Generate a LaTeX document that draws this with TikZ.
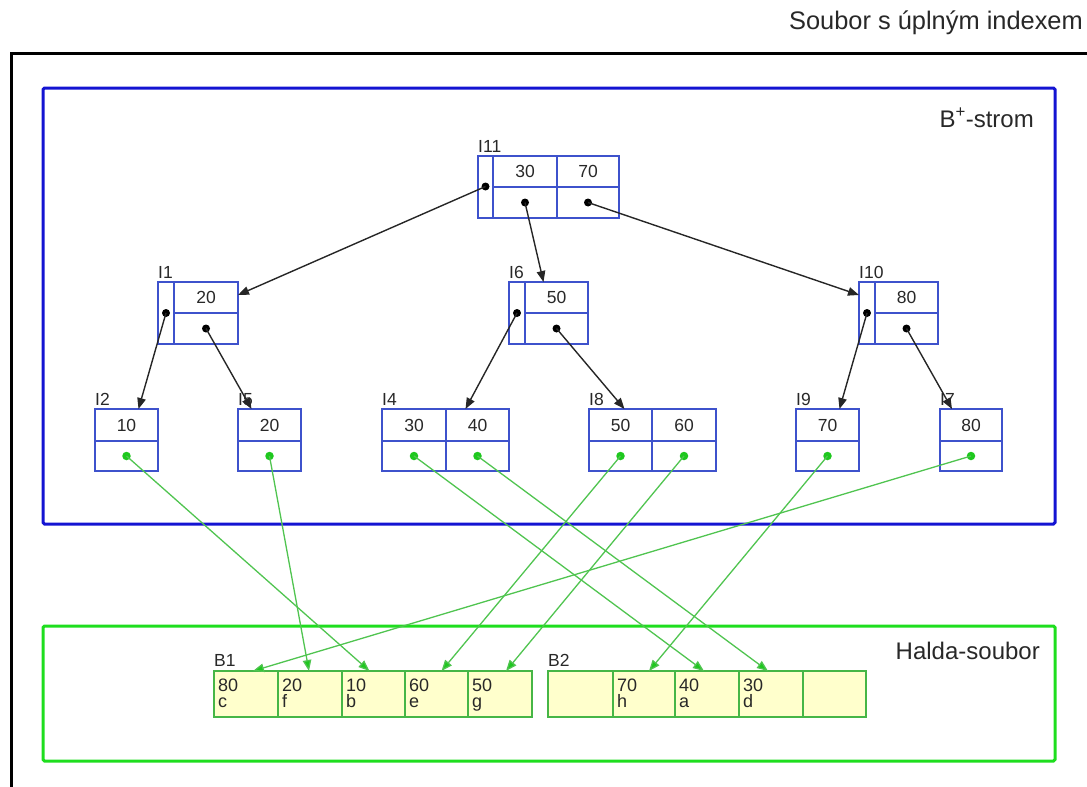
\documentclass[tikz,border=0pt]{standalone}
\usepackage{fontspec}
\setmainfont{Liberation Sans}
\usetikzlibrary{arrows.meta}

\definecolor{nodeblue}{RGB}{62,82,204}
\definecolor{areablue}{RGB}{20,20,210}
\definecolor{areagreen}{RGB}{30,222,30}
\definecolor{blockgreen}{RGB}{70,182,70}
\definecolor{blockfill}{RGB}{255,255,204}
\definecolor{linkgreen}{RGB}{80,196,80}
\definecolor{dotgreen}{RGB}{30,200,30}
\definecolor{inktext}{RGB}{40,40,40}

\tikzset{
  cellbox/.style={draw=nodeblue, line width=1.3pt, inner sep=0pt, outer sep=0pt,
    anchor=north west, font=\fontsize{17.5}{18}\selectfont, text=inktext},
  blockcell/.style={draw=blockgreen, fill=blockfill, line width=1.5pt, inner sep=0pt,
    outer sep=0pt, anchor=north west, minimum height=46pt},
  celltxt/.style={anchor=base west, inner sep=0pt, font=\fontsize{18}{18}\selectfont, text=inktext},
  nodelabel/.style={anchor=base west, inner sep=0pt, font=\fontsize{17.5}{18}\selectfont, text=inktext},
  arealabel/.style={anchor=base east, inner sep=0pt, font=\fontsize{24}{24}\selectfont, text=inktext},
  blackdot/.style={circle, fill=black, inner sep=0pt, minimum size=8pt},
  greendot/.style={circle, fill=dotgreen, inner sep=0pt, minimum size=8.5pt},
  treelink/.style={draw=black!85, line width=1.4pt, -{Triangle[length=11pt,width=8.5pt]}},
  heaplink/.style={draw=linkgreen, line width=1.3pt, -{Triangle[length=11pt,width=8.5pt,fill=dotgreen]}},
}

\begin{document}
\begin{tikzpicture}[x=1pt,y=-1pt]
\useasboundingbox (0,0) rectangle (1087,787);

% outer frame
\draw[line width=3pt, black] (1087,53) -- (11,53) -- (11,787);
\node[arealabel, font=\fontsize{25.4}{26}\selectfont] (title) at (1083,29) {Soubor s úplným indexem};

% areas
\draw[areablue, line width=3pt, rounded corners=1.5pt] (43,88) rectangle (1055,524);
\draw[areagreen, line width=3pt, rounded corners=1.5pt] (43,626) rectangle (1055,761);
\node[arealabel] (treetitle) at (1034,127) {B\textsuperscript{+}-strom};
\node[arealabel] (heaptitle) at (1040,659) {Halda-soubor};

% ---- root I11
\node[cellbox, minimum width=15pt, minimum height=62pt] (I11c) at (478,156) {};
\node[cellbox, minimum width=64pt, minimum height=31pt] (I11k1) at (493,156) {30};
\node[cellbox, minimum width=64pt, minimum height=31pt] (I11p1) at (493,187) {};
\node[cellbox, minimum width=62pt, minimum height=31pt] (I11k2) at (557,156) {70};
\node[cellbox, minimum width=62pt, minimum height=31pt] (I11p2) at (557,187) {};
\node[nodelabel] (L11) at (478,152) {I11};

% ---- inner nodes
\node[cellbox, minimum width=16pt, minimum height=62pt] (I1c) at (158,282) {};
\node[cellbox, minimum width=64pt, minimum height=31pt] (I1k) at (174,282) {20};
\node[cellbox, minimum width=64pt, minimum height=31pt] (I1p) at (174,313) {};
\node[nodelabel] (L1) at (158,278) {I1};

\node[cellbox, minimum width=16pt, minimum height=62pt] (I6c) at (509,282) {};
\node[cellbox, minimum width=63pt, minimum height=31pt] (I6k) at (525,282) {50};
\node[cellbox, minimum width=63pt, minimum height=31pt] (I6p) at (525,313) {};
\node[nodelabel] (L6) at (509,278) {I6};

\node[cellbox, minimum width=16pt, minimum height=62pt] (I10c) at (859,282) {};
\node[cellbox, minimum width=63pt, minimum height=31pt] (I10k) at (875,282) {80};
\node[cellbox, minimum width=63pt, minimum height=31pt] (I10p) at (875,313) {};
\node[nodelabel] (L10) at (859,278) {I10};

% ---- leaves
\node[cellbox, minimum width=63pt, minimum height=32pt] (I2k) at (95,409) {10};
\node[cellbox, minimum width=63pt, minimum height=30pt] (I2p) at (95,441) {};
\node[nodelabel] (L2) at (95,405) {I2};

\node[cellbox, minimum width=63pt, minimum height=32pt] (I5k) at (238,409) {20};
\node[cellbox, minimum width=63pt, minimum height=30pt] (I5p) at (238,441) {};
\node[nodelabel] (L5) at (238,405) {I5};

\node[cellbox, minimum width=64pt, minimum height=32pt] (I4k1) at (382,409) {30};
\node[cellbox, minimum width=64pt, minimum height=30pt] (I4p1) at (382,441) {};
\node[cellbox, minimum width=63pt, minimum height=32pt] (I4k2) at (446,409) {40};
\node[cellbox, minimum width=63pt, minimum height=30pt] (I4p2) at (446,441) {};
\node[nodelabel] (L4) at (382,405) {I4};

\node[cellbox, minimum width=63pt, minimum height=32pt] (I8k1) at (589,409) {50};
\node[cellbox, minimum width=63pt, minimum height=30pt] (I8p1) at (589,441) {};
\node[cellbox, minimum width=64pt, minimum height=32pt] (I8k2) at (652,409) {60};
\node[cellbox, minimum width=64pt, minimum height=30pt] (I8p2) at (652,441) {};
\node[nodelabel] (L8) at (589,405) {I8};

\node[cellbox, minimum width=63pt, minimum height=32pt] (I9k) at (796,409) {70};
\node[cellbox, minimum width=63pt, minimum height=30pt] (I9p) at (796,441) {};
\node[nodelabel] (L9) at (796,405) {I9};

\node[cellbox, minimum width=62pt, minimum height=32pt] (I7k) at (940,409) {80};
\node[cellbox, minimum width=62pt, minimum height=30pt] (I7p) at (940,441) {};
\node[nodelabel] (L7) at (940,405) {I7};

% ---- heap blocks
\node[blockcell, minimum width=64pt] (B1c1) at (214,671) {};
\node[blockcell, minimum width=64pt] (B1c2) at (278,671) {};
\node[blockcell, minimum width=63pt] (B1c3) at (342,671) {};
\node[blockcell, minimum width=63pt] (B1c4) at (405,671) {};
\node[blockcell, minimum width=64pt] (B1c5) at (468,671) {};
\node[nodelabel] (LB1) at (214,666) {B1};

\node[blockcell, minimum width=65pt] (B2c1) at (548,671) {};
\node[blockcell, minimum width=62pt] (B2c2) at (613,671) {};
\node[blockcell, minimum width=64pt] (B2c3) at (675,671) {};
\node[blockcell, minimum width=64pt] (B2c4) at (739,671) {};
\node[blockcell, minimum width=63pt] (B2c5) at (803,671) {};
\node[nodelabel] (LB2) at (548,666) {B2};

\foreach \c/\k/\v in {B1c1/80/c, B1c2/20/f, B1c3/10/b, B1c4/60/e, B1c5/50/g,
                      B2c2/70/h, B2c3/40/a, B2c4/30/d} {
  \node[celltxt] (\c key) at ([shift={(4pt,-20pt)}]\c.north west) {\k};
  \node[celltxt] (\c val) at ([shift={(4pt,-36pt)}]\c.north west) {\v};
}

% ---- pointer dots
\node[blackdot] (d11c) at ([yshift=0.5pt]I11c.center) {};
\node[blackdot] (d11a) at (I11p1.center) {};
\node[blackdot] (d11b) at (I11p2.center) {};
\node[blackdot] (d1c) at (I1c.center) {};
\node[blackdot] (d1k) at (I1p.center) {};
\node[blackdot] (d6c) at (I6c.center) {};
\node[blackdot] (d6k) at (I6p.center) {};
\node[blackdot] (d10c) at (I10c.center) {};
\node[blackdot] (d10k) at (I10p.center) {};

\node[greendot] (g2) at (I2p.center) {};
\node[greendot] (g5) at (I5p.center) {};
\node[greendot] (g4a) at (I4p1.center) {};
\node[greendot] (g4b) at (I4p2.center) {};
\node[greendot] (g8a) at (I8p1.center) {};
\node[greendot] (g8b) at (I8p2.center) {};
\node[greendot] (g9) at (I9p.center) {};
\node[greendot] (g7) at (I7p.center) {};

% ---- tree links
\draw[treelink] (d11c.center) -- ([yshift=2.5pt]I1k.east);
\draw[treelink] (d11a.center) -- ([xshift=-13pt]I6k.north);
\draw[treelink] (d11b.center) -- ([yshift=18pt]I10c.west);
\draw[treelink] (d1c.center) -- ([xshift=12pt]I2k.north);
\draw[treelink] (d1k.center) -- ([xshift=-18pt]I5k.north);
\draw[treelink] (d6c.center) -- ([xshift=-12pt]I4k2.north);
\draw[treelink] (d6k.center) -- ([xshift=4pt]I8k1.north);
\draw[treelink] (d10c.center) -- ([xshift=12pt]I9k.north);
\draw[treelink] (d10k.center) -- ([xshift=-19pt]I7k.north);

% ---- heap links
\draw[heaplink] (g2.center) -- ([xshift=-4pt]B1c3.north);
\draw[heaplink] (g5.center) -- ([xshift=-1pt]B1c2.north);
\draw[heaplink] (g4a.center) -- ([xshift=-3pt]B2c3.north);
\draw[heaplink] (g4b.center) -- ([xshift=-3pt]B2c4.north);
\draw[heaplink] (g8a.center) -- ([xshift=5pt]B1c4.north);
\draw[heaplink] (g8b.center) -- ([xshift=6pt]B1c5.north);
\draw[heaplink] (g9.center) -- ([xshift=5pt]B2c2.north);
\draw[heaplink] (g7.center) -- ([xshift=7pt]B1c1.north);
\end{tikzpicture}
\end{document}
